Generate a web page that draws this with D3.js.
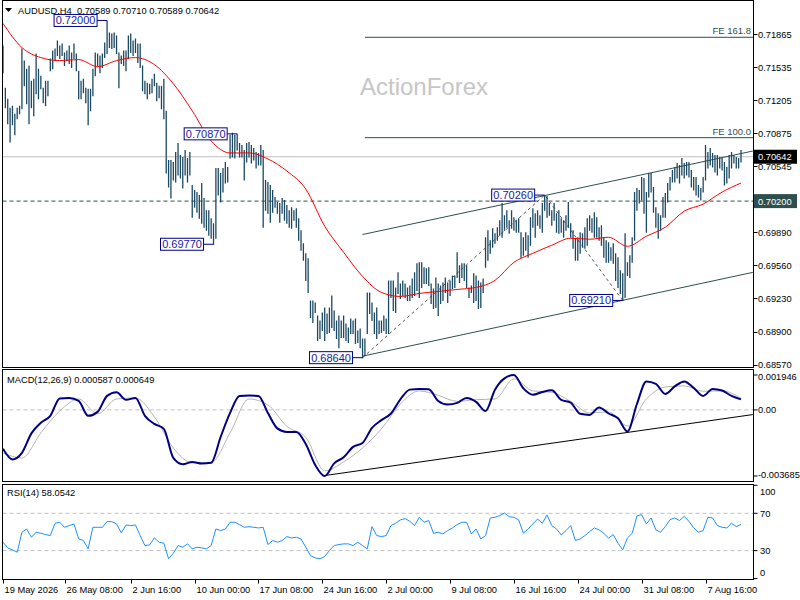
<!DOCTYPE html>
<html>
<head>
<meta charset="utf-8">
<script src="https://cdn.jsdelivr.net/npm/d3@7"></script>
<style>
body{margin:0;background:#fff;}
svg{display:block;font-family:"Liberation Sans",Arial,sans-serif;}
</style>
</head>
<body>
<svg id="chart" width="800" height="600"></svg>
<script>
// AUDUSD H4 bars (high / low per bar)
var high = [
0.7175,0.7133,0.7122,0.7113,0.7115,0.7107,0.7113,0.7115,0.7172,0.7160,
0.7152,0.7155,0.7140,0.7142,0.7167,0.7152,0.7145,0.7133,0.7140,0.7140,
0.7162,0.7170,0.7172,0.7180,0.7175,0.7177,0.7168,0.7170,0.7175,0.7168,
0.7177,0.7167,0.7150,0.7140,0.7142,0.7133,0.7132,0.7132,0.7152,0.7168,
0.7167,0.7165,0.7167,0.7178,0.7200,0.7188,0.7187,0.7188,0.7185,0.7168,
0.7165,0.7170,0.7170,0.7185,0.7187,0.7180,0.7182,0.7177,0.7177,0.7155,
0.7140,0.7138,0.7137,0.7142,0.7147,0.7138,0.7135,0.7135,0.7142,0.7110,
0.7061,0.7061,0.7059,0.7069,0.7078,0.7066,0.7064,0.7071,0.7063,0.7069,
0.7036,0.7031,0.7029,0.7026,0.7038,0.7023,0.7011,0.7011,0.7003,0.6998,
0.7053,0.7053,0.7048,0.7053,0.7059,0.7054,0.7086,0.7088,0.7086,0.7087,
0.7078,0.7076,0.7071,0.7078,0.7079,0.7076,0.7073,0.7069,0.7068,0.7076,
0.7071,0.7041,0.7039,0.7036,0.7031,0.7024,0.7019,0.7018,0.7023,0.7021,
0.7016,0.7011,0.7014,0.7011,0.7013,0.7003,0.6991,0.6978,0.6968,0.6963,
0.6921,0.6921,0.6919,0.6906,0.6901,0.6909,0.6914,0.6908,0.6914,0.6926,
0.6911,0.6901,0.6906,0.6901,0.6906,0.6898,0.6894,0.6903,0.6901,0.6903,
0.6891,0.6893,0.6883,0.6883,0.6929,0.6929,0.6919,0.6909,0.6914,0.6901,
0.6901,0.6906,0.6903,0.6941,0.6941,0.6941,0.6934,0.6949,0.6938,0.6941,
0.6938,0.6934,0.6936,0.6943,0.6949,0.6958,0.6959,0.6959,0.6954,0.6953,
0.6954,0.6938,0.6933,0.6944,0.6938,0.6936,0.6939,0.6944,0.6939,0.6941,
0.6946,0.6946,0.6969,0.6956,0.6958,0.6958,0.6956,0.6934,0.6936,0.6948,
0.6946,0.6941,0.6939,0.6943,0.6984,0.6991,0.6981,0.6993,0.6988,0.6994,
0.7001,0.7018,0.7006,0.7011,0.7001,0.7011,0.7004,0.7001,0.7003,0.6989,
0.6984,0.6989,0.6986,0.7004,0.7013,0.7008,0.7011,0.7006,0.7018,0.7026,
0.7025,0.7018,0.7011,0.7018,0.7008,0.7011,0.7003,0.7001,0.7006,0.7019,
0.6998,0.6991,0.6983,0.6984,0.6989,0.6988,0.6994,0.7003,0.7006,0.7003,
0.7009,0.7004,0.6994,0.6996,0.6984,0.6981,0.6979,0.6974,0.6978,0.6968,
0.6964,0.6951,0.6948,0.6988,0.6959,0.6966,0.6984,0.7029,0.7033,0.7031,
0.7044,0.7043,0.7029,0.7048,0.7048,0.7034,0.7014,0.7008,0.7006,0.7024,
0.7028,0.7038,0.7044,0.7051,0.7054,0.7058,0.7056,0.7063,0.7058,0.7059,
0.7059,0.7051,0.7044,0.7044,0.7036,0.7033,0.7044,0.7076,0.7069,0.7073,
0.7068,0.7066,0.7066,0.7064,0.7063,0.7059,0.7054,0.7066,0.7069,0.7066,
0.7064,0.7063,0.70710];
var low = [
0.7148,0.7113,0.7097,0.7079,0.7096,0.7086,0.7102,0.7107,0.7112,0.7135,
0.7117,0.7097,0.7113,0.7105,0.7127,0.7122,0.7132,0.7118,0.7115,0.7125,
0.7150,0.7152,0.7160,0.7165,0.7162,0.7165,0.7155,0.7160,0.7157,0.7153,
0.7162,0.7150,0.7122,0.7122,0.7128,0.7118,0.7096,0.7110,0.7125,0.7145,
0.7155,0.7148,0.7153,0.7163,0.7167,0.7173,0.7172,0.7173,0.7167,0.7133,
0.7157,0.7155,0.7150,0.7162,0.7168,0.7165,0.7168,0.7158,0.7153,0.7130,
0.7127,0.7122,0.7127,0.7128,0.7135,0.7120,0.7123,0.7112,0.7102,0.7048,
0.7034,0.7023,0.7041,0.7039,0.7046,0.7043,0.7033,0.7046,0.7039,0.7046,
0.7004,0.7014,0.7009,0.7003,0.6998,0.6994,0.6991,0.6986,0.6983,0.6977,
0.6983,0.7026,0.7019,0.7029,0.7038,0.7039,0.7063,0.7064,0.7063,0.7071,
0.7064,0.7064,0.7041,0.7059,0.7064,0.7058,0.7061,0.7053,0.7056,0.7056,
0.6994,0.7011,0.7008,0.6999,0.7009,0.7014,0.7008,0.6999,0.7008,0.7001,
0.6998,0.6994,0.6993,0.7001,0.6994,0.6981,0.6971,0.6961,0.6941,0.6929,
0.6904,0.6899,0.6909,0.6881,0.6883,0.6891,0.6881,0.6888,0.6889,0.6894,
0.6891,0.6883,0.6874,0.6884,0.6884,0.6881,0.6879,0.6888,0.6888,0.6878,
0.6879,0.6874,0.6864,0.6866,0.6888,0.6908,0.6901,0.6888,0.6883,0.6888,
0.6889,0.6891,0.6888,0.6888,0.6924,0.6911,0.6909,0.6928,0.6923,0.6926,
0.6924,0.6921,0.6921,0.6924,0.6926,0.6931,0.6924,0.6934,0.6938,0.6938,
0.6936,0.6918,0.6913,0.6914,0.6906,0.6918,0.6921,0.6929,0.6919,0.6926,
0.6933,0.6934,0.6944,0.6939,0.6944,0.6941,0.6934,0.6924,0.6929,0.6919,
0.6921,0.6913,0.6914,0.6929,0.6954,0.6961,0.6968,0.6974,0.6978,0.6981,
0.6986,0.6984,0.6991,0.6994,0.6988,0.6993,0.6991,0.6989,0.6989,0.6964,
0.6966,0.6971,0.6964,0.6976,0.6994,0.6984,0.6996,0.6993,0.6989,0.7011,
0.7004,0.7006,0.6996,0.7001,0.6989,0.6988,0.6989,0.6984,0.6991,0.6994,
0.6984,0.6973,0.6961,0.6961,0.6968,0.6974,0.6973,0.6976,0.6991,0.6989,
0.6984,0.6984,0.6981,0.6976,0.6964,0.6959,0.6959,0.6961,0.6958,0.6941,
0.6934,0.6928,0.6921,0.6924,0.6946,0.6944,0.6959,0.6981,0.7011,0.7018,
0.7021,0.7008,0.6989,0.7024,0.7029,0.7009,0.6994,0.6983,0.6991,0.7004,
0.7004,0.7019,0.7031,0.7039,0.7039,0.7043,0.7038,0.7046,0.7043,0.7046,
0.7044,0.7034,0.7031,0.7026,0.7024,0.7021,0.7029,0.7041,0.7053,0.7056,
0.7054,0.7049,0.7046,0.7053,0.7051,0.7036,0.7038,0.7043,0.7053,0.7058,
0.7053,0.7053,0.70589];

// red moving average, one value every 8 bars
var maStep = 8;
var ma = [0.7197,0.7173,0.7163,0.7160,0.7161,0.7154,0.7160,0.7163,0.7156,0.7137,
0.7110,0.7080,0.7068,0.7068,0.7062,0.7050,0.7032,0.6995,0.6969,0.6945,
0.6929,0.6925,0.6928,0.6930,0.6932,0.6934,0.6941,0.6959,0.6968,0.6976,
0.6983,0.6982,0.6984,0.6975,0.6985,0.6994,0.7010,0.7017,0.7029,0.7038];

// MACD main, one value every 4 bars
var macdStep = 4;
var macdMain = [-0.00217,-0.00276,-0.00240,-0.00131,-0.00072,-0.00033,0.00064,0.00067,0.00050,-0.00033,
-0.00011,0.00078,0.00098,0.00056,0.00067,-0.00033,-0.00078,-0.00106,-0.00268,-0.00303,
-0.00290,-0.00299,-0.00295,-0.00151,-0.00017,0.00078,0.00080,0.00078,-0.00017,-0.00103,
-0.00123,-0.00123,-0.00190,-0.00307,-0.003685,-0.00298,-0.00264,-0.00206,-0.00184,-0.00100,
-0.00057,-0.00020,0.00059,0.00113,0.00117,0.00115,0.00050,0.00030,0.00039,0.00067,
0.00045,-0.00006,0.00113,0.00176,0.001946,0.00120,0.00084,0.00100,0.00109,0.00056,
0.00041,-0.00022,-0.00028,0.00014,-0.00020,-0.00047,-0.00120,0.00033,0.00159,0.00145,
0.00089,0.00131,0.00159,0.00123,0.00078,0.00117,0.00108,0.00078,0.000587];
// MACD signal, one value every 8 bars
var signalStep = 8;
var macdSignal = [-0.00240,-0.00268,-0.00128,-0.00006,0.00061,-0.00022,0.00061,0.00067,-0.00039,-0.00212,
-0.00295,-0.00293,-0.00128,0.00061,0.00028,-0.00092,-0.00153,-0.00340,-0.00290,-0.00212,
-0.00106,0.00033,0.00106,0.00081,0.00048,0.00057,0.00061,0.00173,0.00106,0.00098,
0.00047,-0.00017,-0.00011,-0.00089,0.00061,0.00128,0.00134,0.00104,0.00106,0.000649];

// RSI(14), one value every 2 bars
var rsiStep = 2;
var rsi = [39.0,32.9,30.8,28.3,49.7,53.2,44.3,49.7,48.6,47.2,
46.1,59.3,60.4,55.0,56.8,58.6,42.5,40.8,31.9,55.0,
55.0,55.0,61.1,61.1,58.6,49.0,57.5,56.8,57.5,46.1,
35.4,36.1,43.6,39.0,37.9,21.2,27.2,35.4,33.6,37.2,
31.9,33.6,32.9,31.9,35.4,53.2,51.5,53.2,60.4,60.4,
57.9,55.0,55.7,55.0,54.3,55.0,36.5,40.8,39.0,40.8,
45.0,43.6,44.3,42.5,33.6,24.7,22.2,21.2,23.7,30.1,
35.4,36.5,37.2,37.2,35.4,39.0,35.4,31.9,55.7,46.1,
45.0,46.1,56.8,59.3,62.9,64.3,61.4,56.8,65.7,60.4,
62.2,48.6,49.7,47.9,51.5,54.3,57.9,60.4,60.4,47.9,
53.2,42.5,46.1,65.0,65.7,67.5,70.4,66.4,65.7,62.9,
48.6,53.2,58.6,63.9,59.3,68.2,56.8,53.2,46.8,51.5,
56.8,40.8,42.5,46.1,50.4,54.3,52.2,48.6,43.3,47.2,
37.9,30.8,43.6,48.6,67.1,68.6,58.6,65.0,52.2,49.7,
55.7,63.2,65.0,62.2,66.8,61.4,54.3,49.7,51.5,65.7,
65.0,56.8,55.0,54.3,59.3,55.7,58.05];

var headerOHLC = ["0.70589","0.70710","0.70589","0.70642"];
var lastPrice = 0.70642;
var supportLevel = 0.70200;
var priceTicks = [0.71865,0.71535,0.71205,0.70875,0.70545,0.69890,0.69560,0.69230,0.68900,0.68570];
var timeLabels = ["19 May 2026","26 May 08:00","2 Jun 16:00","10 Jun 00:00","17 Jun 08:00","24 Jun 16:00",
  "2 Jul 00:00","9 Jul 08:00","16 Jul 16:00","24 Jul 00:00","31 Jul 08:00","7 Aug 16:00"];
var timeLabelBars = [0,26,54,81,108,135,162,189,216,243,270,297];
var pivots = [
  {bar:44, price:0.72000},
  {bar:99, price:0.70870},
  {bar:89, price:0.69770},
  {bar:152, price:0.68640},
  {bar:229, price:0.70260},
  {bar:262, price:0.69210}];
var zigzag = [[152,0.68640],[229,0.70260],[262,0.69210]];
var channelUpper = [[152,0.69867],[317,0.70699]];
var channelLower = [[152,0.68655],[317,0.69490]];
var feLevels = [{name:"FE 161.8", price:0.71832},{name:"FE 100.0", price:0.70832}];
var feStartBar = 153;
var macdTrend = [[136,-0.00366],[317,-0.00026]];
var macdTicks = [{v:0.001946,t:"0.001946"},{v:0,t:"0.00"},{v:-0.003685,t:"-0.003685"}];
var rsiTicks = [100,70,30,0];
var rsiLevels = [70,30];

var svg = d3.select("#chart");
var L = 2.5, R = 753.5;
var panels = {
  main: [0.5, 367.5],
  macd: [369.5, 481.5],
  rsi: [484.5, 579.5]
};

var x = d3.scaleLinear().domain([0, high.length - 1]).range([3, 741]);
var y = d3.scaleLinear().domain([0.68570, 0.71865]).range([364.7, 34]);
var yM = d3.scaleLinear().domain([-0.003685, 0.001946]).range([476, 375]);
var yR = d3.scaleLinear().domain([0, 100]).range([578.6, 485.3]);

var defs = svg.append("defs");
Object.keys(panels).forEach(function(k){
  defs.append("clipPath").attr("id", "clip-" + k).append("rect")
    .attr("x", L).attr("y", panels[k][0])
    .attr("width", R - L).attr("height", panels[k][1] - panels[k][0]);
});

var gMain = svg.append("g").attr("clip-path", "url(#clip-main)");
var gMacd = svg.append("g").attr("clip-path", "url(#clip-macd)");
var gRsi = svg.append("g").attr("clip-path", "url(#clip-rsi)");

// watermark
gMain.append("text")
  .attr("x", 424).attr("y", 95)
  .attr("text-anchor", "middle")
  .attr("font-size", 24)
  .attr("fill", "#c6c6c6")
  .text("ActionForex");

// last price line and support line
gMain.append("line")
  .attr("x1", L).attr("x2", R)
  .attr("y1", y(lastPrice)).attr("y2", y(lastPrice))
  .attr("stroke", "#c0c0c0").attr("stroke-width", 1);
gMain.append("line")
  .attr("x1", L).attr("x2", R)
  .attr("y1", y(supportLevel)).attr("y2", y(supportLevel))
  .attr("stroke", "#2f4f4f").attr("stroke-width", 1)
  .attr("stroke-dasharray", "4,3");

// FE projection levels
feLevels.forEach(function(f){
  gMain.append("line")
    .attr("x1", x(feStartBar)).attr("x2", R)
    .attr("y1", y(f.price)).attr("y2", y(f.price))
    .attr("stroke", "#2f4f4f").attr("stroke-width", 1);
  gMain.append("text")
    .attr("x", 751).attr("y", y(f.price) - 3)
    .attr("text-anchor", "end")
    .attr("font-size", 9.5)
    .attr("fill", "#2f4f4f")
    .text(f.name);
});

// channel
var seg = d3.line().x(function(d){ return x(d[0]); }).y(function(d){ return y(d[1]); });
[channelUpper, channelLower].forEach(function(c){
  gMain.append("path").attr("d", seg(c))
    .attr("fill", "none").attr("stroke", "#2f4f4f").attr("stroke-width", 1);
});
gMain.append("path").attr("d", seg(zigzag))
  .attr("fill", "none").attr("stroke", "#555").attr("stroke-width", 1)
  .attr("stroke-dasharray", "3,3");

// bars
gMain.selectAll("line.bar").data(high).enter().append("line")
  .attr("class", "bar")
  .attr("x1", function(d, i){ return x(i); })
  .attr("x2", function(d, i){ return x(i); })
  .attr("y1", function(d){ return y(d); })
  .attr("y2", function(d, i){ return y(low[i]) + 0.5; })
  .attr("stroke", "#1b4862")
  .attr("stroke-width", 1.3);

// moving average
gMain.append("path")
  .attr("d", d3.line()
    .x(function(d, k){ return x(k * maStep); })
    .y(function(d){ return y(d); })
    .curve(d3.curveMonotoneX)(ma))
  .attr("fill", "none").attr("stroke", "#ff0000").attr("stroke-width", 1);

// pivot labels
pivots.forEach(function(p){
  var bx = x(p.bar), by = y(p.price);
  var txt = p.price.toFixed(5);
  var bw = 43, bh = 12;
  var right = bx - 10;
  gMain.append("line")
    .attr("x1", right).attr("x2", bx)
    .attr("y1", by).attr("y2", by)
    .attr("stroke", "#000080").attr("stroke-width", 1);
  gMain.append("rect")
    .attr("x", right - bw).attr("y", by - bh / 2)
    .attr("width", bw).attr("height", bh)
    .attr("fill", "#fff").attr("stroke", "#000080").attr("stroke-width", 1);
  gMain.append("text")
    .attr("x", right - bw / 2).attr("y", by + 4)
    .attr("text-anchor", "middle")
    .attr("font-size", 11)
    .attr("fill", "#1a1a9a")
    .text(txt);
});

// MACD panel
gMacd.append("line")
  .attr("x1", L).attr("x2", R)
  .attr("y1", yM(0)).attr("y2", yM(0))
  .attr("stroke", "#c0c0c0").attr("stroke-dasharray", "4,3");
gMacd.append("path")
  .attr("d", d3.line()
    .x(function(d){ return x(d[0]); })
    .y(function(d){ return yM(d[1]); })(macdTrend))
  .attr("stroke", "#000").attr("stroke-width", 1);
gMacd.append("path")
  .attr("d", d3.line()
    .x(function(d, k){ return x(k * signalStep); })
    .y(function(d){ return yM(d); })
    .curve(d3.curveMonotoneX)(macdSignal))
  .attr("fill", "none").attr("stroke", "#b4b4b4").attr("stroke-width", 1);
gMacd.append("path")
  .attr("d", d3.line()
    .x(function(d, k){ return x(k * macdStep); })
    .y(function(d){ return yM(d); })
    .curve(d3.curveMonotoneX)(macdMain))
  .attr("fill", "none").attr("stroke", "#000080").attr("stroke-width", 2);

// RSI panel
rsiLevels.forEach(function(v){
  gRsi.append("line")
    .attr("x1", L).attr("x2", R)
    .attr("y1", yR(v)).attr("y2", yR(v))
    .attr("stroke", "#c0c0c0").attr("stroke-dasharray", "4,3");
});
gRsi.append("path")
  .attr("d", d3.line()
    .x(function(d, k){ return x(k * rsiStep); })
    .y(function(d){ return yR(d); })(rsi))
  .attr("fill", "none").attr("stroke", "#1e90ff").attr("stroke-width", 1);

// panel frames
Object.keys(panels).forEach(function(k){
  svg.append("rect")
    .attr("x", L).attr("y", panels[k][0])
    .attr("width", R - L).attr("height", panels[k][1] - panels[k][0])
    .attr("fill", "none").attr("stroke", "#000").attr("stroke-width", 1);
});

// header and indicator captions
svg.append("path").attr("d", "M5,8L12,8L8.5,12Z").attr("fill", "#000");
svg.append("text").attr("x", 18).attr("y", 14).attr("font-size", 9.3)
  .attr("xml:space", "preserve")
  .text("AUDUSD,H4  " + headerOHLC.join(" "));
svg.append("text").attr("x", 7).attr("y", 383).attr("font-size", 9.3)
  .text("MACD(12,26,9) " + macdMain[macdMain.length - 1].toFixed(6) + " " + macdSignal[macdSignal.length - 1].toFixed(6));
svg.append("text").attr("x", 7).attr("y", 496).attr("font-size", 9.3)
  .text("RSI(14) " + d3.format(".4f")(58.0542));

// price axis
var axisG = svg.append("g").attr("font-size", 9.3);
priceTicks.forEach(function(v){
  axisG.append("line").attr("x1", R).attr("x2", R + 4)
    .attr("y1", Math.round(y(v)) + 0.5).attr("y2", Math.round(y(v)) + 0.5)
    .attr("stroke", "#000");
  axisG.append("text").attr("x", 758).attr("y", y(v) + 3.5).text(v.toFixed(5));
});
function priceBox(v, fill){
  axisG.append("rect").attr("x", 754).attr("y", y(v) - 7)
    .attr("width", 43).attr("height", 14).attr("fill", fill);
  axisG.append("text").attr("x", 758).attr("y", y(v) + 3.5)
    .attr("fill", "#fff").text(v.toFixed(5));
}
priceBox(supportLevel, "#2f4f4f");
priceBox(lastPrice, "#000");

// MACD axis
macdTicks.forEach(function(t){
  var yy = Math.max(panels.macd[0] + 7, Math.min(panels.macd[1] - 7, yM(t.v)));
  axisG.append("line").attr("x1", R).attr("x2", R + 4)
    .attr("y1", yM(t.v)).attr("y2", yM(t.v)).attr("stroke", "#000");
  axisG.append("text").attr("x", 758).attr("y", yy + 3.5).text(t.t);
});

// RSI axis
rsiTicks.forEach(function(v){
  var yy = Math.max(panels.rsi[0] + 7, Math.min(panels.rsi[1] - 7, yR(v)));
  axisG.append("line").attr("x1", R).attr("x2", R + 4)
    .attr("y1", yR(v)).attr("y2", yR(v)).attr("stroke", "#000");
  axisG.append("text").attr("x", 760).attr("y", yy + 3.5).text(v);
});

// time axis
timeLabels.forEach(function(t, i){
  var tx = Math.round(x(timeLabelBars[i])) + 0.5;
  axisG.append("line").attr("x1", tx).attr("x2", tx)
    .attr("y1", panels.rsi[1]).attr("y2", panels.rsi[1] + 4).attr("stroke", "#000");
  axisG.append("text").attr("x", tx + 1).attr("y", 593).text(t);
});
</script>
</body>
</html>
